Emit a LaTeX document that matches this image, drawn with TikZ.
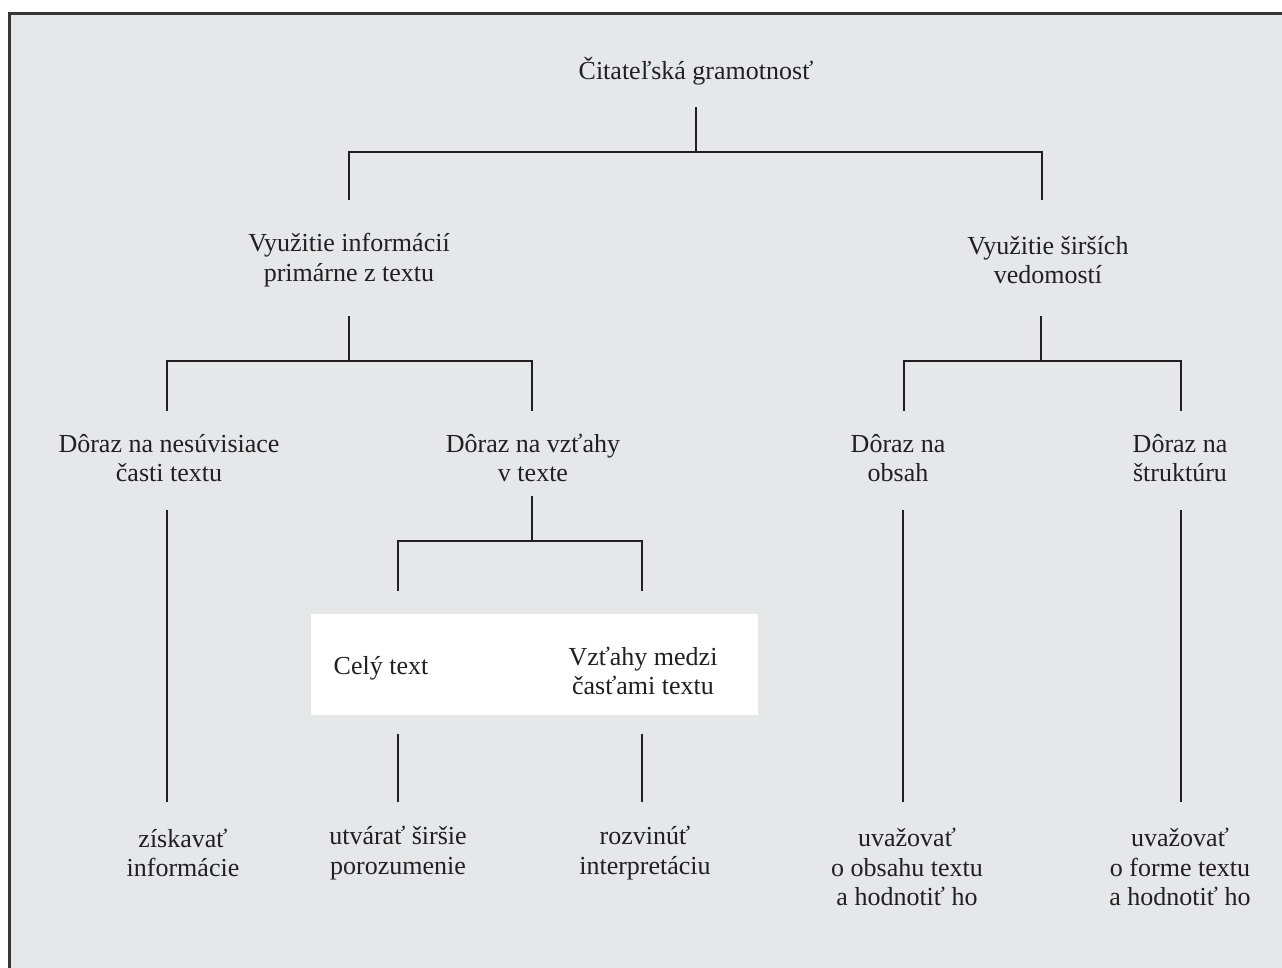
\documentclass[tikz,border=0pt]{standalone}
\usepackage{fontspec}
\setmainfont{Liberation Serif}
\definecolor{bgray}{HTML}{E6E7E8}
\definecolor{ink}{HTML}{231F20}
\begin{document}
\begin{tikzpicture}[x=1pt,y=-1pt,
  lbl/.style={align=center,inner sep=0pt,text=ink,font=\fontsize{26}{29.7}\selectfont},
  conn/.style={draw=ink,line width=2pt,line cap=rect}]
\useasboundingbox (0,0) rectangle (1282,968);
\fill[white] (0,0) rectangle (1282,968);
\begin{scope}
\clip (0,0) rectangle (1282,968);
\filldraw[fill=bgray,draw=ink!90,line width=3pt] (9.5,13.5) rectangle (1300,1000);
\end{scope}
\fill[white] (311,614) rectangle (758,715);

% text nodes
\node[lbl] (root) at (696,71) {Čitateľská gramotnosť};
\node[lbl] (l1) at (349,260) {Využitie informácií\\primárne z textu};
\node[lbl] (r1) at (1048,260) {Využitie širších\\vedomostí};
\node[lbl] (l2a) at (169,458) {Dôraz na nesúvisiace\\časti textu};
\node[lbl] (l2b) at (533,458) {Dôraz na vzťahy\\v texte};
\node[lbl] (r2a) at (898,458) {Dôraz na\\obsah};
\node[lbl] (r2b) at (1180,458) {Dôraz na\\štruktúru};
\node[lbl] (c1) at (381,668) {Celý text};
\node[lbl] (c2) at (643,671) {Vzťahy medzi\\časťami textu};
\node[lbl] (b1) at (183,853) {získavať\\informácie};
\node[lbl] (b2) at (398,853) {utvárať širšie\\porozumenie};
\node[lbl] (b3) at (645,853) {rozvinúť\\interpretáciu};
\node[lbl] (b4) at (907,867) {uvažovať\\o obsahu textu\\a hodnotiť ho};
\node[lbl] (b5) at (1180,867) {uvažovať\\o forme textu\\a hodnotiť ho};

% junction coordinates
\coordinate (t0) at (696,108); \coordinate (t1) at (696,152);
\coordinate (tL) at (349,152); \coordinate (tR) at (1042,152);
\coordinate (tLb) at (349,199); \coordinate (tRb) at (1042,199);

\coordinate (l0) at (349,317); \coordinate (l1j) at (349,361);
\coordinate (lL) at (167,361); \coordinate (lR) at (532,361);
\coordinate (lLb) at (167,410); \coordinate (lRb) at (532,410);

\coordinate (r0) at (1041,317); \coordinate (r1j) at (1041,361);
\coordinate (rL) at (904,361); \coordinate (rR) at (1181,361);
\coordinate (rLb) at (904,410); \coordinate (rRb) at (1181,410);

\coordinate (m0) at (532,497); \coordinate (m1) at (532,541);
\coordinate (mL) at (398,541); \coordinate (mR) at (642,541);
\coordinate (mLb) at (398,590); \coordinate (mRb) at (642,590);

\coordinate (v1a) at (167,511); \coordinate (v1b) at (167,801);
\coordinate (v2a) at (398,735); \coordinate (v2b) at (398,801);
\coordinate (v3a) at (642,735); \coordinate (v3b) at (642,801);
\coordinate (v4a) at (903,511); \coordinate (v4b) at (903,801);
\coordinate (v5a) at (1181,511); \coordinate (v5b) at (1181,801);

% connectors
\draw[conn] (t0) -- (t1);
\draw[conn] (tLb) -- (tL) -- (tR) -- (tRb);
\draw[conn] (l0) -- (l1j);
\draw[conn] (lLb) -- (lL) -- (lR) -- (lRb);
\draw[conn] (r0) -- (r1j);
\draw[conn] (rLb) -- (rL) -- (rR) -- (rRb);
\draw[conn] (m0) -- (m1);
\draw[conn] (mLb) -- (mL) -- (mR) -- (mRb);
\draw[conn] (v1a) -- (v1b);
\draw[conn] (v2a) -- (v2b);
\draw[conn] (v3a) -- (v3b);
\draw[conn] (v4a) -- (v4b);
\draw[conn] (v5a) -- (v5b);
\end{tikzpicture}
\end{document}
